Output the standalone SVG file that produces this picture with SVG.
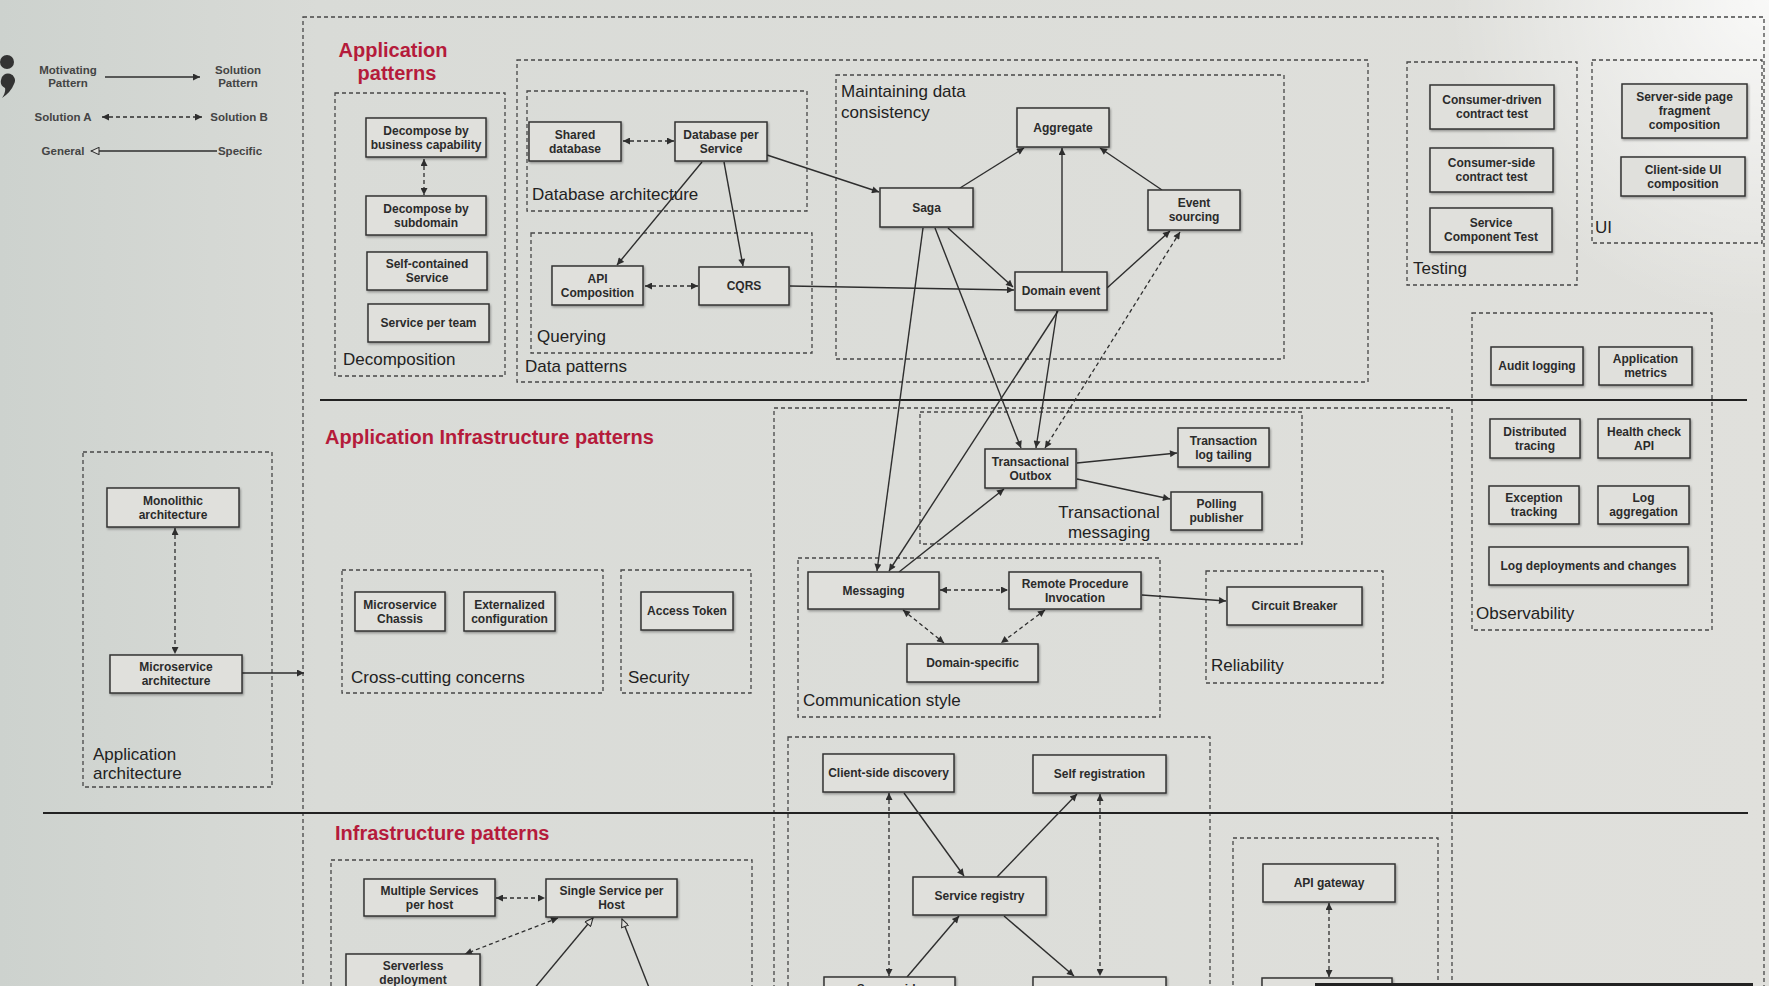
<svg xmlns="http://www.w3.org/2000/svg" width="1769" height="986" viewBox="0 0 1769 986">
<defs>
<linearGradient id="bg" x1="0" y1="0" x2="1" y2="0">
<stop offset="0" stop-color="#cdd2ce"/>
<stop offset="0.18" stop-color="#d9dbd7"/>
<stop offset="1" stop-color="#e0e0dc"/>
</linearGradient>
<radialGradient id="hl" cx="1769" cy="0" r="320" gradientUnits="userSpaceOnUse">
<stop offset="0" stop-color="#ffffff" stop-opacity="0.8"/>
<stop offset="1" stop-color="#ffffff" stop-opacity="0"/>
</radialGradient>
<filter id="sh" x="-10%" y="-10%" width="125%" height="140%">
<feDropShadow dx="1" dy="1.5" stdDeviation="1" flood-color="#000" flood-opacity="0.35"/>
</filter>
<marker id="ah" viewBox="0 0 10 10" refX="10" refY="5" markerWidth="9" markerHeight="7" markerUnits="userSpaceOnUse" orient="auto-start-reverse">
<path d="M0,0 L10,5 L0,10 z" fill="#2e2e2e"/>
</marker>
<marker id="oh" viewBox="0 0 10 10" refX="10" refY="5" markerWidth="10" markerHeight="8" markerUnits="userSpaceOnUse" orient="auto">
<path d="M0,0.5 L10,5 L0,9.5 z" fill="#e0e0dc" stroke="#2e2e2e" stroke-width="1.3"/>
</marker>
</defs>
<style>
.n rect { fill:#e0e0dc; stroke:#333; stroke-width:1.5; filter:url(#sh); }
.n text, .lg { font-family:"Liberation Sans", Arial, sans-serif; font-size:12px; font-weight:bold; fill:#2b2b2b; text-anchor:middle; }
.lg { font-size:11.5px; fill:#444; }
.g { fill:none; stroke:#474747; stroke-width:1.3; stroke-dasharray:4 3; }
.gl { font-family:"Liberation Sans", Arial, sans-serif; font-size:17px; fill:#222; }
.t { font-family:"Liberation Sans", Arial, sans-serif; font-size:20px; font-weight:bold; fill:#b51b3b; }
.sep { stroke:#222; stroke-width:2; }
.c { stroke:#2e2e2e; stroke-width:1.4; fill:none; marker-end:url(#ah); }
.d { stroke:#2e2e2e; stroke-width:1.3; stroke-dasharray:4 3; fill:none; marker-start:url(#ah); marker-end:url(#ah); }
.o { stroke:#2e2e2e; stroke-width:1.4; fill:none; marker-end:url(#oh); }
</style>

<rect x="0" y="0" width="1769" height="986" fill="url(#bg)"/>
<rect x="0" y="0" width="1769" height="986" fill="url(#hl)"/>

<!-- photo marks at left -->
<circle cx="7" cy="62" r="7" fill="#333"/>
<path d="M1,80 a7,7 0 1 1 13,4 q-3,8 -12,14 q4,-6 3,-10 a7,7 0 0 1 -4,-8 z" fill="#333"/>

<!-- legend -->
<g id="legend">
<text class="lg" x="68" y="74">Motivating</text>
<text class="lg" x="68" y="87">Pattern</text>
<text class="lg" x="238" y="74">Solution</text>
<text class="lg" x="238" y="87">Pattern</text>
<text class="lg" x="63" y="121">Solution A</text>
<text class="lg" x="239" y="121">Solution B</text>
<text class="lg" x="63" y="155">General</text>
<text class="lg" x="240" y="155">Specific</text>
<line class="c" x1="105" y1="77" x2="200" y2="77"/>
<line class="d" x1="102" y1="117" x2="202" y2="117"/>
<line class="o" x1="217" y1="151" x2="91" y2="151"/>
</g>

<!-- group boxes -->
<g id="groups">
<rect class="g" x="303" y="17" width="1461" height="1000"/>
<rect class="g" x="335" y="93" width="170" height="283"/>
<rect class="g" x="517" y="60" width="851" height="322"/>
<rect class="g" x="527" y="91" width="280" height="120"/>
<rect class="g" x="531" y="233" width="281" height="120"/>
<rect class="g" x="836" y="75" width="448" height="284"/>
<rect class="g" x="1407" y="62" width="170" height="223"/>
<rect class="g" x="1592" y="60" width="170" height="183"/>
<rect class="g" x="1472" y="313" width="240" height="317"/>
<rect class="g" x="83" y="452" width="189" height="335"/>
<rect class="g" x="342" y="570" width="261" height="123"/>
<rect class="g" x="621" y="570" width="130" height="123"/>
<rect class="g" x="774" y="408" width="678" height="610"/>
<rect class="g" x="920" y="412" width="382" height="132"/>
<rect class="g" x="798" y="558" width="362" height="159"/>
<rect class="g" x="1206" y="571" width="177" height="112"/>
<rect class="g" x="788" y="737" width="422" height="280"/>
<rect class="g" x="1233" y="838" width="205" height="180"/>
<rect class="g" x="331" y="860" width="421" height="160"/>

<text class="t" x="393" y="57" text-anchor="middle">Application</text>
<text class="t" x="397" y="80" text-anchor="middle">patterns</text>
<text class="t" x="325" y="444">Application Infrastructure patterns</text>
<text class="t" x="335" y="840">Infrastructure patterns</text>

<text class="gl" x="343" y="365">Decomposition</text>
<text class="gl" x="532" y="200">Database architecture</text>
<text class="gl" x="537" y="342">Querying</text>
<text class="gl" x="525" y="372">Data patterns</text>
<text class="gl" x="841" y="97">Maintaining data</text>
<text class="gl" x="841" y="118">consistency</text>
<text class="gl" x="1413" y="274">Testing</text>
<text class="gl" x="1595" y="233">UI</text>
<text class="gl" x="1476" y="619">Observability</text>
<text class="gl" x="93" y="760">Application</text>
<text class="gl" x="93" y="779">architecture</text>
<text class="gl" x="351" y="683">Cross-cutting concerns</text>
<text class="gl" x="628" y="683">Security</text>
<text class="gl" x="1109" y="518" text-anchor="middle">Transactional</text>
<text class="gl" x="1109" y="538" text-anchor="middle">messaging</text>
<text class="gl" x="803" y="706">Communication style</text>
<text class="gl" x="1211" y="671">Reliability</text>
</g>

<!-- separators -->
<line class="sep" x1="320" y1="400" x2="1747" y2="400"/>
<line class="sep" x1="43" y1="813" x2="1748" y2="813"/>

<!-- connectors -->
<g id="connectors">
<line class="d" x1="424" y1="159" x2="424" y2="195"/>
<line class="d" x1="623" y1="141" x2="674" y2="141"/>
<line class="d" x1="645" y1="286" x2="698" y2="286"/>
<line class="c" x1="702" y1="162" x2="617" y2="265"/>
<line class="c" x1="724" y1="162" x2="743" y2="266"/>
<line class="c" x1="767" y1="155" x2="879" y2="192"/>
<line class="c" x1="790" y1="286" x2="1014" y2="290"/>
<line class="c" x1="960" y1="188" x2="1024" y2="148"/>
<line class="c" x1="1062" y1="272" x2="1062" y2="148"/>
<line class="c" x1="1162" y1="190" x2="1100" y2="148"/>
<line class="c" x1="948" y1="228" x2="1013" y2="287"/>
<line class="c" x1="1107" y1="288" x2="1170" y2="231"/>
<line class="d" x1="1180" y1="232" x2="1045" y2="448"/>
<line class="c" x1="923" y1="228" x2="877" y2="571"/>
<line class="c" x1="935" y1="228" x2="1021" y2="448"/>
<line class="c" x1="1058" y1="311" x2="889" y2="571"/>
<line class="c" x1="1057" y1="311" x2="1036" y2="448"/>
<line class="c" x1="899" y1="572" x2="1004" y2="489"/>
<line class="c" x1="1077" y1="463" x2="1177" y2="453"/>
<line class="c" x1="1077" y1="479" x2="1170" y2="499"/>
<line class="d" x1="940" y1="590" x2="1008" y2="590"/>
<line class="d" x1="903" y1="610" x2="944" y2="643"/>
<line class="d" x1="1045" y1="610" x2="1001" y2="643"/>
<line class="c" x1="1142" y1="595" x2="1226" y2="601"/>
<line class="d" x1="175" y1="528" x2="175" y2="654"/>
<line class="c" x1="242" y1="673" x2="304" y2="673"/>
<line class="d" x1="889" y1="793" x2="889" y2="976"/>
<line class="d" x1="1100" y1="794" x2="1100" y2="976"/>
<line class="c" x1="904" y1="793" x2="964" y2="876"/>
<line class="c" x1="997" y1="877" x2="1077" y2="794"/>
<line class="c" x1="907" y1="977" x2="959" y2="916"/>
<line class="c" x1="1004" y1="916" x2="1074" y2="976"/>
<line class="d" x1="1329" y1="903" x2="1329" y2="977"/>
<line class="d" x1="496" y1="898" x2="545" y2="898"/>
<line class="d" x1="558" y1="918" x2="465" y2="954"/>
<line class="o" x1="533" y1="990" x2="593" y2="918"/>
<line class="o" x1="650" y1="990" x2="622" y2="919"/>
</g>

<!-- nodes -->
<g id="dbc" class="n"><rect x="366" y="118" width="120" height="39"/><text x="426" y="134.8">Decompose by</text><text x="426" y="148.8">business capability</text></g>
<g id="dsd" class="n"><rect x="366" y="196" width="120" height="39"/><text x="426" y="212.8">Decompose by</text><text x="426" y="226.8">subdomain</text></g>
<g id="scs" class="n"><rect x="367" y="252" width="120" height="38"/><text x="427" y="268.3">Self-contained</text><text x="427" y="282.3">Service</text></g>
<g id="spt" class="n"><rect x="368" y="304" width="121" height="38"/><text x="428.5" y="327.3">Service per team</text></g>
<g id="shared" class="n"><rect x="529" y="122" width="92" height="39"/><text x="575" y="138.8">Shared</text><text x="575" y="152.8">database</text></g>
<g id="dbps" class="n"><rect x="675" y="122" width="92" height="39"/><text x="721" y="138.8">Database per</text><text x="721" y="152.8">Service</text></g>
<g id="apic" class="n"><rect x="552" y="266" width="91" height="39"/><text x="597.5" y="282.8">API</text><text x="597.5" y="296.8">Composition</text></g>
<g id="cqrs" class="n"><rect x="699" y="267" width="90" height="38"/><text x="744" y="290.3">CQRS</text></g>
<g id="aggregate" class="n"><rect x="1017" y="108" width="92" height="39"/><text x="1063" y="131.8">Aggregate</text></g>
<g id="saga" class="n"><rect x="880" y="188" width="93" height="39"/><text x="926.5" y="211.8">Saga</text></g>
<g id="eventsourcing" class="n"><rect x="1148" y="190" width="92" height="40"/><text x="1194" y="207.3">Event</text><text x="1194" y="221.3">sourcing</text></g>
<g id="domainevent" class="n"><rect x="1015" y="272" width="92" height="38"/><text x="1061" y="295.3">Domain event</text></g>
<g id="cdct" class="n"><rect x="1430" y="85" width="124" height="44"/><text x="1492" y="104.3">Consumer-driven</text><text x="1492" y="118.3">contract test</text></g>
<g id="csct" class="n"><rect x="1430" y="148" width="123" height="44"/><text x="1491.5" y="167.3">Consumer-side</text><text x="1491.5" y="181.3">contract test</text></g>
<g id="sct" class="n"><rect x="1430" y="208" width="122" height="44"/><text x="1491" y="227.3">Service</text><text x="1491" y="241.3">Component Test</text></g>
<g id="sspfc" class="n"><rect x="1622" y="84" width="125" height="54"/><text x="1684.5" y="101.3">Server-side page</text><text x="1684.5" y="115.3">fragment</text><text x="1684.5" y="129.3">composition</text></g>
<g id="csuic" class="n"><rect x="1621" y="157" width="124" height="39"/><text x="1683" y="173.8">Client-side UI</text><text x="1683" y="187.8">composition</text></g>
<g id="audit" class="n"><rect x="1491" y="347" width="92" height="38"/><text x="1537" y="370.3">Audit logging</text></g>
<g id="appmetrics" class="n"><rect x="1599" y="347" width="93" height="38"/><text x="1645.5" y="363.3">Application</text><text x="1645.5" y="377.3">metrics</text></g>
<g id="disttracing" class="n"><rect x="1490" y="419" width="90" height="39"/><text x="1535" y="435.8">Distributed</text><text x="1535" y="449.8">tracing</text></g>
<g id="healthcheck" class="n"><rect x="1598" y="419" width="92" height="39"/><text x="1644" y="435.8">Health check</text><text x="1644" y="449.8">API</text></g>
<g id="exctracking" class="n"><rect x="1489" y="486" width="90" height="38"/><text x="1534" y="502.3">Exception</text><text x="1534" y="516.3">tracking</text></g>
<g id="logagg" class="n"><rect x="1598" y="486" width="91" height="38"/><text x="1643.5" y="502.3">Log</text><text x="1643.5" y="516.3">aggregation</text></g>
<g id="logdeploy" class="n"><rect x="1489" y="547" width="199" height="38"/><text x="1588.5" y="570.3">Log deployments and changes</text></g>
<g id="monolith" class="n"><rect x="107" y="488" width="132" height="39"/><text x="173" y="504.8">Monolithic</text><text x="173" y="518.8">architecture</text></g>
<g id="msarch" class="n"><rect x="110" y="655" width="132" height="38"/><text x="176" y="671.3">Microservice</text><text x="176" y="685.3">architecture</text></g>
<g id="chassis" class="n"><rect x="355" y="592" width="90" height="39"/><text x="400" y="608.8">Microservice</text><text x="400" y="622.8">Chassis</text></g>
<g id="extconf" class="n"><rect x="464" y="592" width="91" height="39"/><text x="509.5" y="608.8">Externalized</text><text x="509.5" y="622.8">configuration</text></g>
<g id="accesstoken" class="n"><rect x="641" y="592" width="92" height="38"/><text x="687" y="615.3">Access Token</text></g>
<g id="outbox" class="n"><rect x="985" y="449" width="91" height="39"/><text x="1030.5" y="465.8">Transactional</text><text x="1030.5" y="479.8">Outbox</text></g>
<g id="logtailing" class="n"><rect x="1178" y="428" width="91" height="39"/><text x="1223.5" y="444.8">Transaction</text><text x="1223.5" y="458.8">log tailing</text></g>
<g id="polling" class="n"><rect x="1171" y="492" width="91" height="38"/><text x="1216.5" y="508.3">Polling</text><text x="1216.5" y="522.3">publisher</text></g>
<g id="messaging" class="n"><rect x="808" y="572" width="131" height="37"/><text x="873.5" y="594.8">Messaging</text></g>
<g id="rpi" class="n"><rect x="1009" y="572" width="132" height="37"/><text x="1075" y="587.8">Remote Procedure</text><text x="1075" y="601.8">Invocation</text></g>
<g id="domainspecific" class="n"><rect x="907" y="644" width="131" height="38"/><text x="972.5" y="667.3">Domain-specific</text></g>
<g id="circuitbreaker" class="n"><rect x="1227" y="587" width="135" height="38"/><text x="1294.5" y="610.3">Circuit Breaker</text></g>
<g id="clientdisc" class="n"><rect x="823" y="754" width="131" height="38"/><text x="888.5" y="777.3">Client-side discovery</text></g>
<g id="selfreg" class="n"><rect x="1033" y="755" width="133" height="38"/><text x="1099.5" y="778.3">Self registration</text></g>
<g id="registry" class="n"><rect x="913" y="877" width="133" height="38"/><text x="979.5" y="900.3">Service registry</text></g>
<g id="serverdisc" class="n"><rect x="824" y="977" width="131" height="38"/><text x="889.5" y="993.3">Server-side</text><text x="889.5" y="1007.3">discovery</text></g>
<g id="thirdparty" class="n"><rect x="1033" y="977" width="133" height="38"/></g>
<g id="apigw" class="n"><rect x="1263" y="864" width="132" height="38"/><text x="1329" y="887.3">API gateway</text></g>
<g id="apigwbelow" class="n"><rect x="1262" y="978" width="130" height="38"/></g>
<g id="multihost" class="n"><rect x="364" y="879" width="131" height="37"/><text x="429.5" y="894.8">Multiple Services</text><text x="429.5" y="908.8">per host</text></g>
<g id="singlehost" class="n"><rect x="546" y="879" width="131" height="38"/><text x="611.5" y="895.3">Single Service per</text><text x="611.5" y="909.3">Host</text></g>
<g id="serverless" class="n"><rect x="346" y="954" width="134" height="38"/><text x="413" y="970.3">Serverless</text><text x="413" y="984.3">deployment</text></g>

<rect x="1315" y="983" width="438" height="3" fill="#222"/>
</svg>
